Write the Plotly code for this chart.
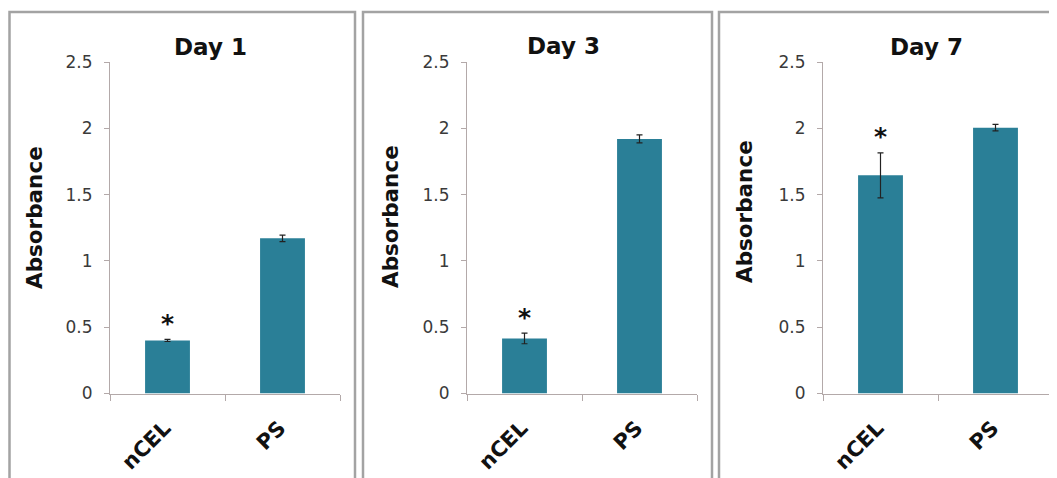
import plotly.graph_objects as go

# ---- data ----
categories = ["nCEL", "PS"]
days = ["Day 1", "Day 3", "Day 7"]
day1_values = [0.40, 1.17]
day1_errors = [0.008, 0.025]
day3_values = [0.415, 1.92]
day3_errors = [0.04, 0.03]
day7_values = [1.645, 2.005]
day7_errors = [0.17, 0.025]
significance = ["*", ""]  # marker above nCEL in every panel
y_tick_vals = [0, 0.5, 1, 1.5, 2, 2.5]
y_tick_text = ["0", "0.5", "1", "1.5", "2", "2.5"]
y_title = "Absorbance"

values = [day1_values, day3_values, day7_values]
errors = [day1_errors, day3_errors, day7_errors]

# ---- layout constants (pixels, in page coordinates) ----
PAGE_OFFSET = 8          # default body margin of the HTML page
W, H = 1057 - PAGE_OFFSET, 478 - PAGE_OFFSET
BAR_COLOR = "#2a7f97"
AXIS_COLOR = "#b3a9a9"
FONT = "DejaVu Sans"
plot_x = [(110, 340), (467, 697), (823, 1053)]
plot_top, plot_bottom = 62, 393.5
title_pos = [(210, 47), (563, 46), (926, 47)]
ytitle_pos = [(34, 218), (390, 217), (745, 212)]
borders = [(9.5, 355), (363, 712), (719, 1070)]


def px(x):
    return (x - PAGE_OFFSET) / W


def py(y):
    return 1 - (y - PAGE_OFFSET) / H


fig = go.Figure()
annotations = []
shapes = []

for i in range(3):
    xa = "x" if i == 0 else f"x{i+1}"
    ya = "y" if i == 0 else f"y{i+1}"
    fig.add_trace(go.Bar(
        x=categories, y=values[i],
        error_y=dict(type="data", array=errors[i], color="#222222",
                     thickness=1.2, width=3),
        marker=dict(color=BAR_COLOR, line=dict(width=0)),
        xaxis=xa, yaxis=ya, showlegend=False,
    ))
    axis_suffix = "" if i == 0 else str(i + 1)
    fig.update_layout(**{
        f"xaxis{axis_suffix}": dict(
            domain=[px(plot_x[i][0]), px(plot_x[i][1])],
            anchor=ya, showline=True, linecolor=AXIS_COLOR, linewidth=1,
            ticks="outside", tickson="boundaries", ticklen=6,
            tickcolor=AXIS_COLOR, tickangle=-45, automargin=False,
            ticklabelstandoff=13, ticklabelshift=-3,
            tickfont=dict(family=FONT, size=21, color="#111111", weight="bold"),
            showgrid=False, zeroline=False, fixedrange=True,
        ),
        f"yaxis{axis_suffix}": dict(
            domain=[py(plot_bottom), py(plot_top)],
            anchor=xa, range=[0, 2.5], tickvals=y_tick_vals,
            ticktext=y_tick_text, showline=True, linecolor=AXIS_COLOR,
            linewidth=1, ticks="outside", ticklen=5, tickcolor=AXIS_COLOR,
            tickfont=dict(family=FONT, size=17, color="#3a3a3a"),
            ticklabelstandoff=8, automargin=False,
            showgrid=False, zeroline=False, fixedrange=True,
        ),
    })
    # panel title
    annotations.append(dict(
        text=days[i], xref="paper", yref="paper",
        x=px(title_pos[i][0]), y=py(title_pos[i][1]),
        xanchor="center", yanchor="middle", showarrow=False,
        font=dict(family=FONT, size=23, color="#111111", weight="bold"),
    ))
    # y-axis title
    annotations.append(dict(
        text=y_title, xref="paper", yref="paper",
        x=px(ytitle_pos[i][0]), y=py(ytitle_pos[i][1]),
        xanchor="center", yanchor="middle", showarrow=False, textangle=-90,
        font=dict(family=FONT, size=21.5, color="#111111", weight="bold"),
    ))
    # significance markers
    for c, s in enumerate(significance):
        if s:
            annotations.append(dict(
                text=s, xref=xa, yref=ya, x=categories[c],
                y=values[i][c] + errors[i][c], xanchor="center",
                yanchor="bottom", yshift=-0.5, showarrow=False,
                font=dict(family=FONT, size=25, color="#111111", weight="bold"),
            ))
    # panel border
    x0, x1 = borders[i]
    shapes.append(dict(
        type="rect", xref="paper", yref="paper",
        x0=px(x0), x1=px(x1), y0=py(H + 40), y1=py(12),
        line=dict(color="#a3a3a3", width=2.5), fillcolor="rgba(0,0,0,0)",
        layer="below",
    ))

fig.update_layout(
    width=W, height=H, margin=dict(l=0, r=0, t=0, b=0),
    paper_bgcolor="white", plot_bgcolor="white",
    bargap=0.61, annotations=annotations, shapes=shapes,
)

fig.write_html("out.html")
